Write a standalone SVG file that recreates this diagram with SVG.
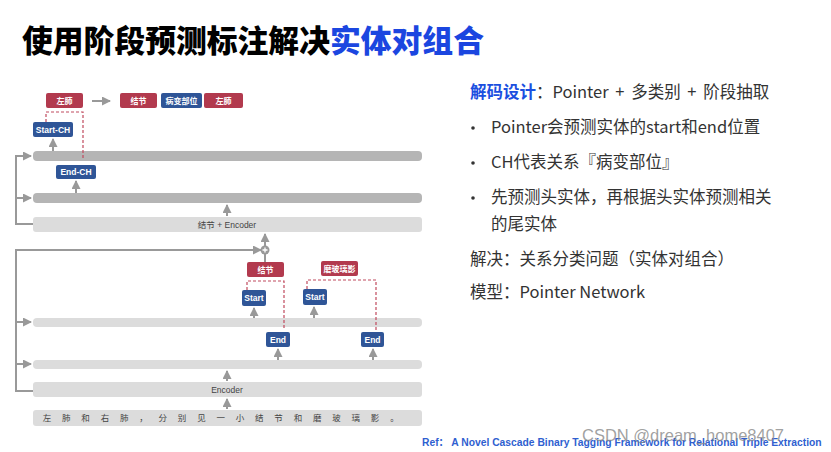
<svg xmlns="http://www.w3.org/2000/svg" width="831" height="452" viewBox="0 0 831 452">
<style>
.red{fill:#b23a4e}
.blue{fill:#2f5597}
.lbl{fill:#fff;font-family:"Liberation Sans","Noto Sans CJK SC",sans-serif;font-weight:bold;font-size:8.5px;text-anchor:middle}
.cjk{fill:#fff;font-family:"Noto Sans CJK SC",sans-serif;font-weight:bold;font-size:8px;text-anchor:middle}
.dark{fill:#b5b5b5}
.light{fill:#dcdcdc}
.ar{stroke:#999;stroke-width:2;fill:none}
.dash{stroke:#c04a5e;stroke-width:1.2;fill:none;stroke-dasharray:3 2}
.body{font-family:"Noto Sans CJK SC","Noto Sans",sans-serif;font-size:16.5px;fill:#333}
.bartxt{font-family:"Liberation Sans","Noto Sans CJK SC",sans-serif;font-size:8.5px;fill:#444;text-anchor:middle}
</style>
<defs>
<marker id="ah" markerUnits="userSpaceOnUse" markerWidth="9" markerHeight="9" refX="8" refY="4.5" orient="auto">
<path d="M0,0 L9,4.5 L0,9 z" fill="#999"/>
</marker>
</defs>
<rect width="831" height="452" fill="#fff"/>

<text x="22" y="52" font-family="'Noto Sans CJK SC',sans-serif" font-weight="900" font-size="30.8px" fill="#000">使用阶段预测标注解决<tspan fill="#1b46e0">实体对组合</tspan></text>

<g id="bars">
<rect id="bar1" class="dark" x="33" y="151" width="389" height="10" rx="4"/>
<rect id="bar2" class="dark" x="33" y="193" width="389" height="10" rx="4"/>
<g id="bar3"><rect class="light" x="33" y="217" width="389" height="15" rx="3"/><text class="bartxt" x="227" y="228"><tspan font-family="'Noto Sans CJK SC',sans-serif">结节</tspan> + Encoder</text></g>
<rect id="bar4" class="light" x="33" y="318" width="389" height="9" rx="4"/>
<rect id="bar5" class="light" x="33" y="360" width="389" height="9" rx="4"/>
<g id="encoder"><rect class="light" x="33" y="382" width="389" height="15" rx="3"/><text class="bartxt" x="227" y="393">Encoder</text></g>
<g id="sentence"><rect class="light" x="33" y="410" width="389" height="16" rx="3"/>
<text font-family="'Noto Sans CJK SC',sans-serif" font-size="8.5px" fill="#444" text-anchor="middle" y="421" x="47 66.3 85.6 104.9 124.2 143.5 162.8 182.1 201.4 220.7 240 259.3 278.6 297.9 317.2 336.5 355.8 375.1 394.4">左肺和右肺，分别见一小结节和磨玻璃影。</text></g>
</g>

<g id="connectors">
<path class="ar" d="M16,156 H31" marker-end="url(#ah)"/>
<path class="ar" d="M16,198 H31" marker-end="url(#ah)"/>
<path class="ar" d="M16,155 V224 H33"/>
<path class="ar" d="M53,151 V139" marker-end="url(#ah)"/>
<path class="ar" d="M76,193 V181" marker-end="url(#ah)"/>
<path class="ar" d="M227,216 V205" marker-end="url(#ah)"/>
<path class="ar" d="M92,101 H110" marker-end="url(#ah)"/>
<path class="dash" d="M46,122 V112 H83 V160"/>

<path class="ar" d="M16,250 H261" marker-end="url(#ah)"/>
<path class="ar" d="M16,249 V391 H33"/>
<path class="ar" d="M16,322 H31" marker-end="url(#ah)"/>
<path class="ar" d="M16,364 H31" marker-end="url(#ah)"/>
<path class="ar" d="M265,246 V234" marker-end="url(#ah)"/>
<path class="ar" d="M265,254 V262"/>
<path class="ar" d="M254,318 V308" marker-end="url(#ah)"/>
<path class="ar" d="M314,318 V307" marker-end="url(#ah)"/>
<path class="ar" d="M278,360 V349" marker-end="url(#ah)"/>
<path class="ar" d="M373,360 V349" marker-end="url(#ah)"/>
<path class="ar" d="M227,381 V371" marker-end="url(#ah)"/>
<path class="ar" d="M227,409 V399" marker-end="url(#ah)"/>
<path class="dash" d="M247,290 V281 H284 V330"/>
<path class="dash" d="M307,289 V280 H376 V331"/>
</g>

<g id="plus"><circle cx="265" cy="250" r="4.5" fill="#999"/><path d="M262.5,250 H267.5 M265,247.5 V252.5" stroke="#fff" stroke-width="1.3"/></g>

<g id="top-zuofei"><rect class="red" x="46" y="93" width="37" height="15" rx="2"/><text class="cjk" x="64.5" y="103.5">左肺</text></g>
<g id="top-jiejie"><rect class="red" x="120" y="93" width="37" height="15" rx="2"/><text class="cjk" x="138.5" y="103.5">结节</text></g>
<g id="top-bingbian"><rect class="blue" x="161" y="93" width="41" height="15" rx="2"/><text class="cjk" x="181.5" y="103.5">病变部位</text></g>
<g id="top-zuofei2"><rect class="red" x="204" y="93" width="39" height="15" rx="2"/><text class="cjk" x="223.5" y="103.5">左肺</text></g>
<g id="start-ch"><rect class="blue" x="33" y="122" width="40" height="15" rx="2"/><text class="lbl" x="53" y="132.5">Start-CH</text></g>
<g id="end-ch"><rect class="blue" x="56" y="165" width="40" height="14" rx="2"/><text class="lbl" x="76" y="175">End-CH</text></g>
<g id="jiejie"><rect class="red" x="247" y="262" width="37" height="15" rx="2"/><text class="cjk" x="265.5" y="272.5">结节</text></g>
<g id="moboli"><rect class="red" x="321" y="261" width="37" height="15" rx="2"/><text class="cjk" x="339.5" y="271.5" font-size="7.5px">磨玻璃影</text></g>
<g id="start1"><rect class="blue" x="242" y="290" width="24" height="16" rx="2"/><text class="lbl" x="254" y="301">Start</text></g>
<g id="start2"><rect class="blue" x="303" y="289" width="24" height="16" rx="2"/><text class="lbl" x="315" y="300">Start</text></g>
<g id="end1"><rect class="blue" x="266" y="332" width="24" height="15" rx="2"/><text class="lbl" x="278" y="342.5">End</text></g>
<g id="end2"><rect class="blue" x="361" y="332" width="23" height="15" rx="2"/><text class="lbl" x="372.5" y="342.5">End</text></g>

<g id="notes">
<text class="body" x="470" y="98" word-spacing="3"><tspan fill="#1b4fe0" font-weight="bold">解码设计</tspan>：Pointer + 多类别 + 阶段抽取</text>
<circle cx="473" cy="128" r="1.8" fill="#333"/>
<text class="body" x="491" y="133">Pointer会预测实体的start和end位置</text>
<circle cx="473" cy="163" r="1.8" fill="#333"/>
<text class="body" x="491" y="168">CH代表关系『病变部位』</text>
<circle cx="473" cy="198" r="1.8" fill="#333"/>
<text class="body" x="491" y="203">先预测头实体，再根据头实体预测相关</text>
<text class="body" x="491" y="230">的尾实体</text>
<text class="body" x="470" y="265">解决：关系分类问题（实体对组合）</text>
<text class="body" x="470" y="298">模型：Pointer Network</text>
</g>

<text x="422" y="446" font-family="'Liberation Sans','Noto Sans CJK SC',sans-serif" font-weight="bold" font-size="10.3px" fill="#2f5fd0">Ref： A Novel Cascade Binary Tagging Framework for Relational Triple Extraction</text>
<text x="582" y="441" font-family="'Liberation Sans',sans-serif" font-size="16.5px" fill="#888" fill-opacity="0.8">CSDN @dream_home8407</text>
</svg>
